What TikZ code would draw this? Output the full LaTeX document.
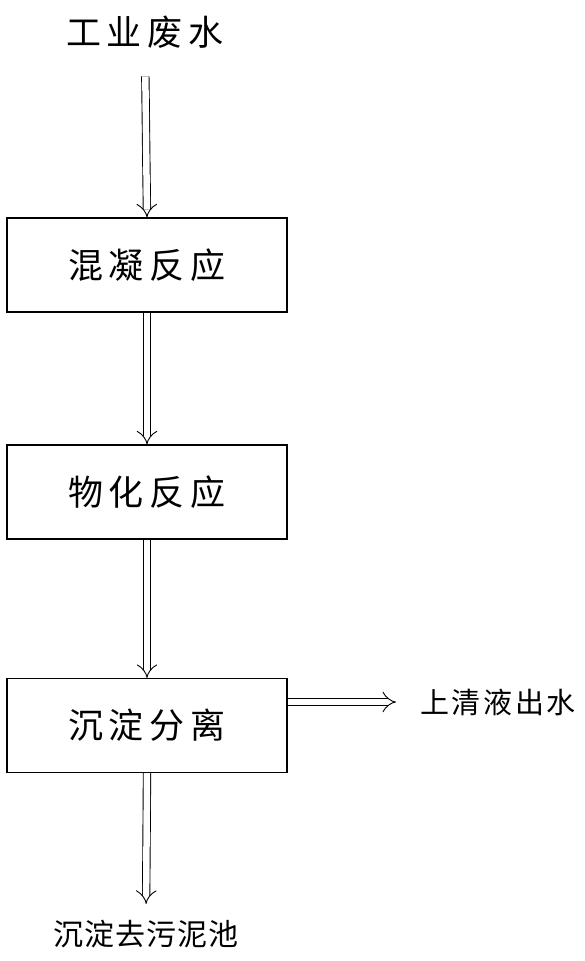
\documentclass[tikz,border=0pt]{standalone}
\usepackage{fontspec}
\newfontfamily\cjkA[LetterSpace=17]{Noto Sans CJK SC}
\newfontfamily\cjkB[LetterSpace=9]{Noto Sans CJK SC}
\newfontfamily\cjkC[LetterSpace=3]{Noto Sans CJK SC}
\usetikzlibrary{arrows.meta}
\begin{document}
\begin{tikzpicture}[x=1pt,y=-1pt,
  stepbox/.style={draw=black,line width=1.2pt,minimum width=280pt,minimum height=94pt,inner sep=0pt,font=\cjkA\fontsize{35}{35}\selectfont},
  lbl/.style={inner sep=0pt,font=\cjkA\fontsize{35}{35}\selectfont},
  flow/.style={double=white,draw=black,line width=0.9pt,double distance=6.5pt,-{Implies[length=9pt,width=18pt]}}
]
\useasboundingbox (0,0) rectangle (585,961);
\node[lbl] (src) at (145,32) {工业废水};
\node[stepbox] (b1) at (147,265) {混凝反应};
\node[stepbox] (b2) at (147,492) {物化反应};
\node[stepbox] (b3) at (147,725.5) {沉淀分离};
\node[lbl,font=\cjkB\fontsize{29}{29}\selectfont,anchor=west] (out) at (420,702) {上清液出水};
\node[lbl,font=\cjkC\fontsize{30}{30}\selectfont] (sl) at (146,934) {沉淀去污泥池};
\draw[flow,shorten <=28pt] (src.south) -- (b1.north);
\draw[flow] (b1.south) -- (b2.north);
\draw[flow] (b2.south) -- (b3.north);
\draw[flow,shorten >=24pt] (b3.east |- out) -- (out.west);
\draw[flow,shorten >=16pt] (b3.south) -- (sl.north);
\end{tikzpicture}
\end{document}
